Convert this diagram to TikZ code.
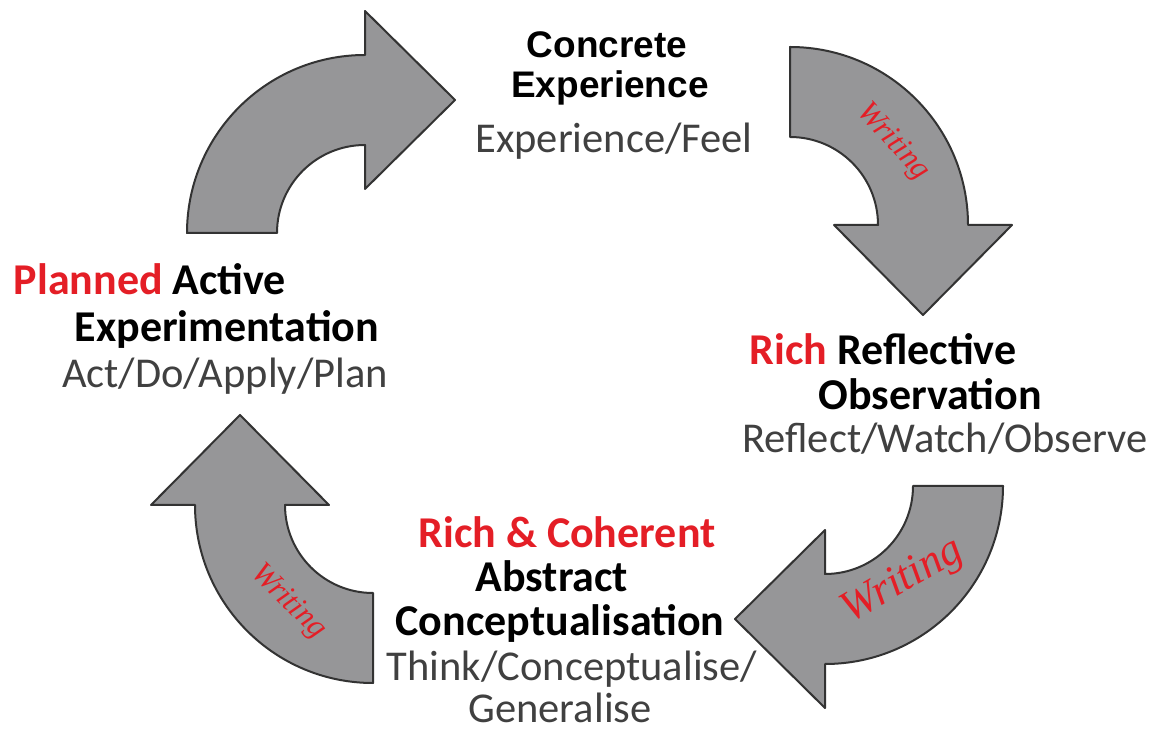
\documentclass[tikz,border=0pt]{standalone}
\usepackage{fontspec}
\setmainfont{Carlito}
\newfontfamily\arialfont{Liberation Sans}
\newfontfamily\timesfont{Liberation Serif}
\definecolor{kolbred}{RGB}{228,30,38}
\definecolor{kolbgray}{RGB}{150,150,152}
\definecolor{subgray}{RGB}{64,64,64}
\tikzset{
  arrowbody/.style={fill=kolbgray, draw=black!80, line width=2pt, line join=round},
  stage/.style={anchor=base, inner sep=0pt, font=\bfseries\fontsize{44}{50}\selectfont},
  topstage/.style={anchor=base, inner sep=0pt, font=\arialfont\bfseries\fontsize{37}{42}\selectfont},
  verbs/.style={anchor=base, inner sep=0pt, text=subgray, font=\fontsize{42.5}{48}\selectfont},
  writing/.style={text=kolbred, inner sep=0pt, font=\timesfont\itshape\fontsize{#1}{#1}\selectfont},
  pics/bentarrow/.style={code={
    \draw[arrowbody] (-178,0) arc[start angle=180, end angle=90, radius=178]
      -- (0,222) -- (90,133) -- (0,44) -- (0,88)
      arc[start angle=90, end angle=180, radius=88] -- cycle;
  }}
}
\begin{document}
\begin{tikzpicture}[x=1pt, y=1pt]
        \useasboundingbox (0,0) rectangle (1153,739);
        % the four bent arrows
        \pic (toCE) at (365,506) {bentarrow};
        \pic[rotate=-90] (toRO) at (790,514) {bentarrow};
        \pic[rotate=180] (toAC) at (825,253) {bentarrow};
        \pic[rotate=90] (toAE) at (373,234) {bentarrow};
        \node[writing=31, rotate=-48] (wrRO) at (893,597) {Writing};
        \node[writing=44, rotate=30] (wrAC) at (903,157) {Writing};
        \node[writing=31, rotate=-45] (wrAE) at (288,137) {Writing};
        % concrete experience
        \node[topstage] (ce1) at (607,681) {Concrete};
        \node[topstage] (ce2) at (610,641) {Experience};
        \node[verbs] (ce3) at (614,586) {Experience/Feel};
        % reflective observation
        \node[stage] (ro1) at (883,374) {\textcolor{kolbred}{Rich} Reflective};
        \node[stage] (ro2) at (930,329) {Observation};
        \node[verbs] (ro3) at (945,286) {Reflect/Watch/Observe};
        % abstract conceptualisation
        \node[stage, text=kolbred] (ac1) at (567,191) {Rich \& Coherent};
        \node[stage] (ac2) at (552,147) {Abstract};
        \node[stage] (ac3) at (560,104) {Conceptualisation};
        \node[verbs] (ac4) at (572,59) {Think/Conceptualise/};
        \node[verbs] (ac5) at (560,17) {Generalise};
        % active experimentation
        \node[stage] (ae1) at (150,444) {\textcolor{kolbred}{Planned} Active};
        \node[stage] (ae2) at (227,397) {Experimentation};
        \node[verbs] (ae3) at (225,351) {Act/Do/Apply/Plan};
\end{tikzpicture}
\end{document}
